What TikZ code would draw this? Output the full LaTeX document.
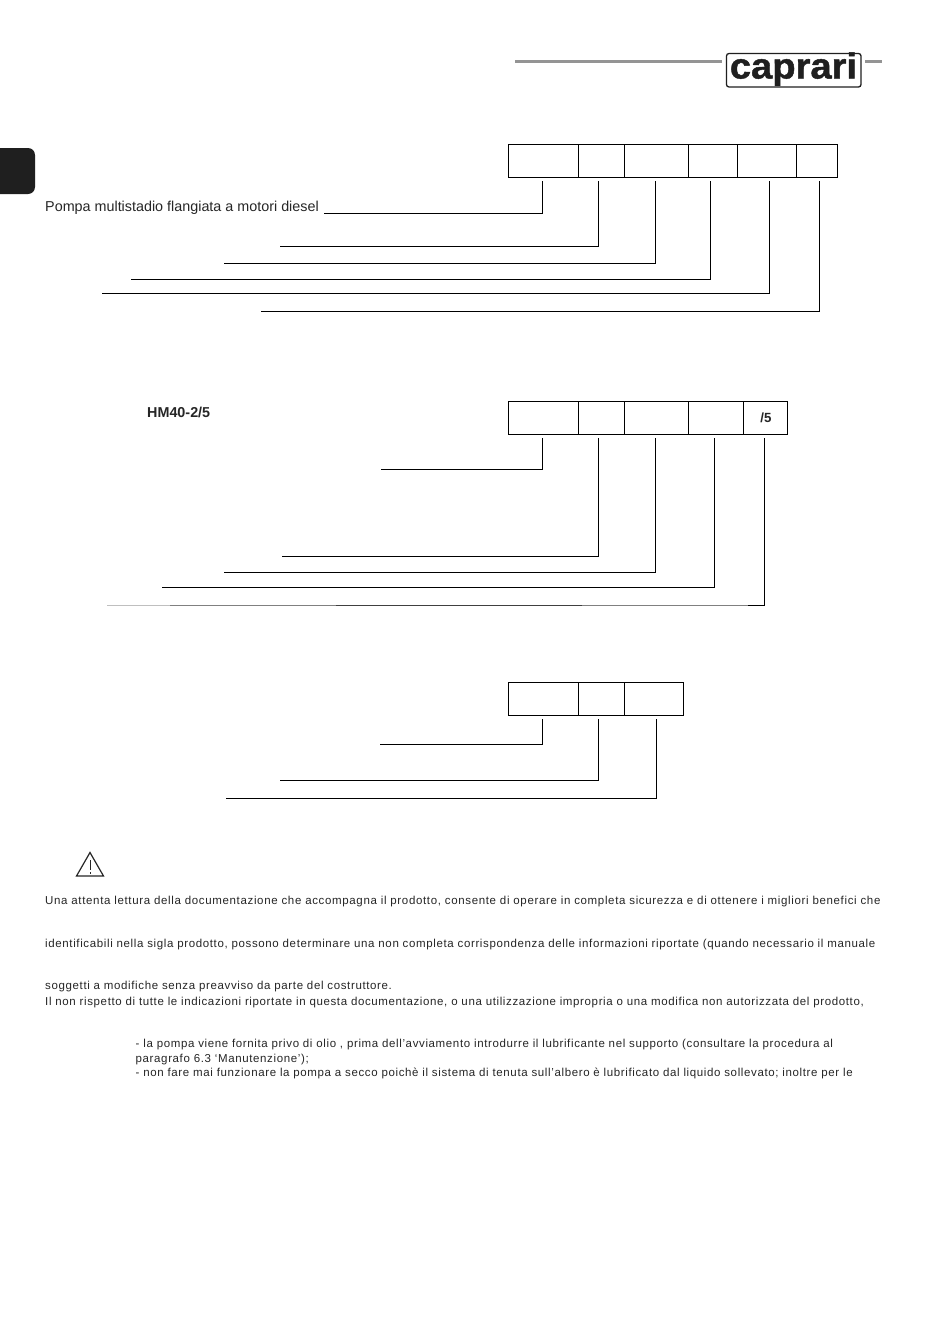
\documentclass[tikz,border=0pt]{standalone}
\usepackage{fontspec}
\setmainfont{Liberation Sans}
\newfontfamily\bodyfont[LetterSpace=5.5]{Liberation Sans}
\newfontfamily\bodywide[LetterSpace=5.68]{Liberation Sans}
\newfontfamily\logofont[FakeBold=1.2,FakeStretch=1.06]{Liberation Sans Bold}
\tikzset{
 x=1pt,y=-1pt,
 cell/.style={draw=black,line width=1pt,inner sep=0pt,anchor=north west},
 leader/.style={draw=black,line width=1pt},
 body/.style={anchor=base west,inner sep=0pt,font=\fontsize{11.5}{13}\selectfont\bodyfont,text=black!85},
 label/.style={anchor=base west,inner sep=0pt,font=\fontsize{14.35}{16}\selectfont,text=black!85},
 grayrule/.style={draw=black!42,line width=3pt},
}
\newcommand{\cellbox}[5]{\node[cell,minimum width=#3-#2,minimum height=#5-#4] (#1) at (#2-1,#4-1) {};}
\begin{document}
\begin{tikzpicture}
\useasboundingbox (0,0) rectangle (950,1344);
\fill[white] (0,0) rectangle (950,1344);
% header
\coordinate (ra) at (515,61); \coordinate (rb) at (722,61);
\coordinate (rc) at (865,61); \coordinate (rd) at (882,61);
\draw[grayrule] (ra)--(rb);
\draw[grayrule] (rc)--(rd);
\draw[black!88,line width=1.3pt,rounded corners=2.5pt] (726.5,53.5) rectangle (861,87);
\node[anchor=base,inner sep=0pt,font=\fontsize{36}{38}\selectfont\logofont,text=black!88] (logo) at (793.5,78.5) {caprari};
% tab
\fill[black!88,rounded corners=7pt] (-10,148) rectangle (35,194);
% box 1
\cellbox{a1}{508.5}{578.5}{144.5}{177.5}
\cellbox{a2}{578.5}{624.5}{144.5}{177.5}
\cellbox{a3}{624.5}{688.5}{144.5}{177.5}
\cellbox{a4}{688.5}{737.5}{144.5}{177.5}
\cellbox{a5}{737.5}{796.5}{144.5}{177.5}
\cellbox{a6}{796.5}{837.5}{144.5}{177.5}
\node[label] (t1) at (45,211.5) {Pompa multistadio flangiata a motori diesel};
\foreach \n/\x/\y/\l in {1/542.5/213.5/324,2/598.5/246.5/280,3/655.5/263.5/224,4/710.5/279.5/131,5/769.5/293.5/102,6/819.5/311.5/261}{
 \coordinate (as\n) at (\x,181); \coordinate (ae\n) at (\l,\y);
 \draw[leader] (as\n) |- (ae\n);
}
% box 2
\cellbox{b1}{508.5}{578.5}{401.5}{434.5}
\cellbox{b2}{578.5}{624.5}{401.5}{434.5}
\cellbox{b3}{624.5}{688.5}{401.5}{434.5}
\cellbox{b4}{688.5}{743.5}{401.5}{434.5}
\cellbox{b5}{743.5}{787.5}{401.5}{434.5}
\node[anchor=base,inner sep=0pt,font=\fontsize{13.3}{15}\selectfont\bfseries,text=black!85] (s5) at (766,422) {/5};
\node[label,font=\fontsize{14.35}{16}\selectfont\bfseries] (hm) at (147,417) {HM40-2/5};
\foreach \n/\x/\y/\l in {1/542.5/469.5/381,2/598.5/556.5/282,3/655.5/572.5/224,4/714.5/587.5/162}{
 \coordinate (bs\n) at (\x,438); \coordinate (be\n) at (\l,\y);
 \draw[leader] (bs\n) |- (be\n);
}
\coordinate (bs5) at (764.5,438); \coordinate (bc) at (764.5,605.5);
\coordinate (g1) at (748,605.5); \coordinate (g2) at (582,605.5); \coordinate (g3) at (336,605.5);
\coordinate (g4) at (170,605.5); \coordinate (g5) at (107,605.5);
\draw[leader] (bs5)--(bc)--(g1);
\draw[draw=black!50,line width=1pt] (g1)--(g2);
\draw[draw=black!75,line width=1pt] (g2)--(g3);
\draw[draw=black!50,line width=1pt] (g3)--(g4);
\draw[draw=black!25,line width=1.2pt] (g4)--(g5);
% box 3
\cellbox{c1}{508.5}{578.5}{682.5}{715.5}
\cellbox{c2}{578.5}{624.5}{682.5}{715.5}
\cellbox{c3}{624.5}{683.5}{682.5}{715.5}
\foreach \n/\x/\y/\l in {1/542.5/744.5/380,2/598.5/780.5/280,3/656.5/798.5/226}{
 \coordinate (cs\n) at (\x,719); \coordinate (ce\n) at (\l,\y);
 \draw[leader] (cs\n) |- (ce\n);
}
% warning
\draw[black!85,line width=1.2pt,line join=miter] (90,852.5)--(103.5,876)--(76.5,876)--cycle;
\draw[black!85,line width=1pt] (90,860)--(90,870);
\draw[black!85,line width=1pt] (90,872)--(90,874);
% text
\node[body,font=\fontsize{11.5}{13}\selectfont\bodywide] (l1) at (45,904) {Una attenta lettura della documentazione che accompagna il prodotto, consente di operare in completa sicurezza e di ottenere i migliori benefici che};
\node[body] (l2) at (45,947) {identificabili nella sigla prodotto, possono determinare una non completa corrispondenza delle informazioni riportate (quando necessario il manuale};
\node[body] (l3) at (45,989) {soggetti a modifiche senza preavviso da parte del costruttore.};
\node[body] (l4) at (45,1005) {Il non rispetto di tutte le indicazioni riportate in questa documentazione, o una utilizzazione impropria o una modifica non autorizzata del prodotto,};
\node[body] (l5) at (135.5,1047.5) {- la pompa viene fornita privo di olio , prima dell’avviamento introdurre il lubrificante nel supporto (consultare la procedura al};
\node[body] (l6) at (135.5,1062) {paragrafo 6.3 ‘Manutenzione’);};
\node[body] (l7) at (135.5,1076) {- non fare mai funzionare la pompa a secco poichè il sistema di tenuta sull’albero è lubrificato dal liquido sollevato; inoltre per le};
\end{tikzpicture}
\end{document}
